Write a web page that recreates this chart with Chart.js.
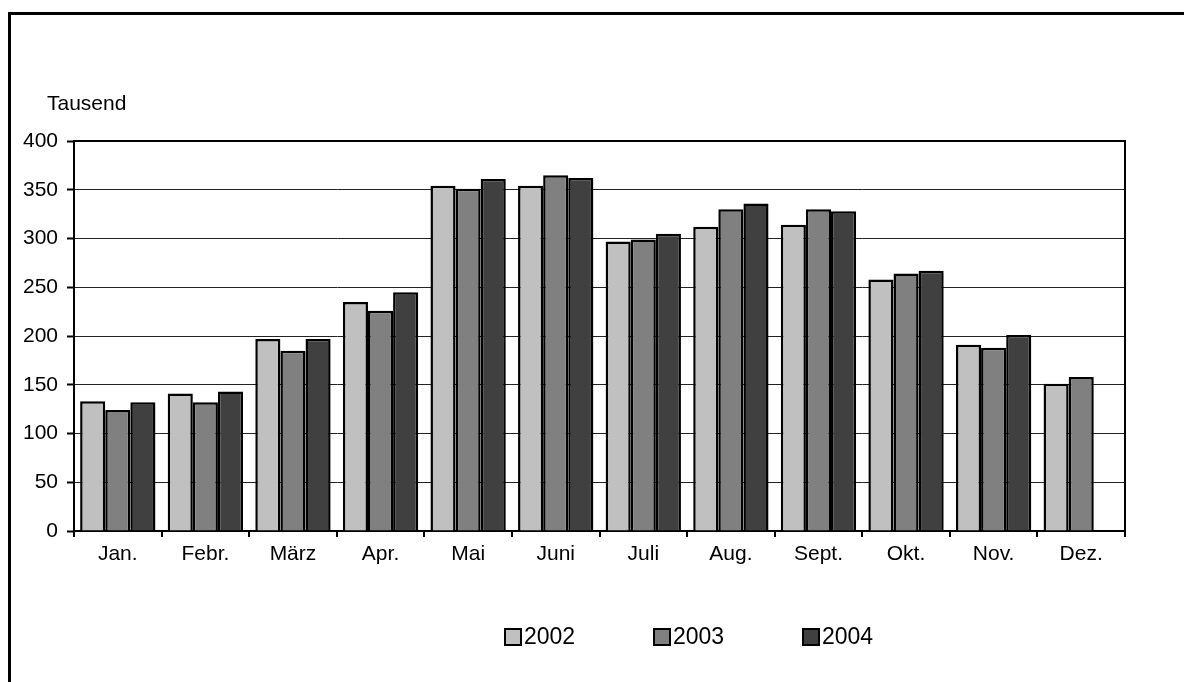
<!DOCTYPE html>
<html>
<head>
<meta charset="utf-8">
<script src="https://cdn.jsdelivr.net/npm/chart.js@4.4.1/dist/chart.umd.min.js"></script>
<style>
  html, body { margin: 0; padding: 0; width: 1184px; height: 682px; overflow: hidden; background: #fff; }
  #frame { position: absolute; left: 8px; top: 12px; width: 1400px; height: 900px; border-left: 3px solid #000; border-top: 3px solid #000; }
  #wrap { position: absolute; left: 0; top: 0; width: 1184px; height: 682px; }
</style>
</head>
<body>
<div id="frame"></div>
<div id="wrap"><canvas id="c" width="1184" height="682"></canvas></div>
<script>
const categories = ["Jan.", "Febr.", "März", "Apr.", "Mai", "Juni", "Juli", "Aug.", "Sept.", "Okt.", "Nov.", "Dez."];
const seriesLabels = ["2002", "2003", "2004"];
const values2002 = [133, 141, 197, 235, 354, 354, 297, 312, 314, 258, 191, 151];
const values2003 = [124, 132, 185, 226, 351, 365, 299, 330, 330, 264, 188, 158];
const values2004 = [132, 143, 197, 245, 361, 362, 305, 336, 328, 267, 201, null];
const yTicks = [0, 50, 100, 150, 200, 250, 300, 350, 400];
const unitLabel = "Tausend";
const colors = ["#C0C0C0", "#808080", "#404040"];

const FONT = "'Liberation Sans', Arial, sans-serif";

const framePlugin = {
  id: 'framePlugin',
  afterDraw(chart) {
    const ctx = chart.ctx, a = chart.chartArea;
    ctx.save();
    ctx.strokeStyle = '#000';
    ctx.lineWidth = 2;
    ctx.beginPath();
    ctx.moveTo(a.left, a.top);
    ctx.lineTo(a.right, a.top);
    ctx.lineTo(a.right, a.bottom);
    ctx.stroke();
    // unit label
    ctx.fillStyle = '#000';
    ctx.font = "21px " + FONT;
    ctx.textAlign = 'left';
    ctx.textBaseline = 'middle';
    ctx.fillText(unitLabel, 47, 104);
    // legend
    ctx.font = "23px " + FONT;
    chart.data.datasets.forEach((ds, i) => {
      const x = 505 + i * 149, y = 637;
      ctx.fillStyle = ds.backgroundColor;
      ctx.fillRect(x, y - 8, 16, 16);
      ctx.lineWidth = 2;
      ctx.strokeStyle = '#000';
      ctx.strokeRect(x, y - 8, 16, 16);
      ctx.fillStyle = '#000';
      ctx.fillText(ds.label, x + 19, y + 1);
    });
    ctx.restore();
  }
};

new Chart(document.getElementById('c'), {
  type: 'bar',
  data: {
    labels: categories,
    datasets: [
      { label: seriesLabels[0], data: values2002, backgroundColor: colors[0] },
      { label: seriesLabels[1], data: values2003, backgroundColor: colors[1] },
      { label: seriesLabels[2], data: values2004, backgroundColor: colors[2] }
    ].map(d => Object.assign(d, { borderColor: '#000', borderWidth: 2.5, borderSkipped: 'bottom', categoryPercentage: 0.86, barPercentage: 1.0 }))
  },
  options: {
    responsive: false,
    animation: false,
    devicePixelRatio: 1,
    layout: { padding: { top: 141, right: 59, bottom: 0, left: 0 } },
    plugins: { legend: { display: false }, tooltip: { enabled: false } },
    scales: {
      x: {
        grid: { display: true, offset: true, drawOnChartArea: false, drawTicks: true, tickLength: 6, color: '#000', lineWidth: 2 },
        border: { display: true, color: '#000', width: 2 },
        ticks: { color: '#000', font: { family: FONT, size: 21 }, padding: 5, maxRotation: 0, autoSkip: false },
        afterFit(scale) { scale.height = 151; }
      },
      y: {
        min: 0, max: 400,
        afterBuildTicks(scale) { scale.ticks = yTicks.map(v => ({ value: v })); },
        grid: {
          color: '#222',
          lineWidth: 1,
          drawTicks: true,
          tickLength: 7,
          tickColor: '#000',
          tickWidth: 2
        },
        border: { display: true, color: '#000', width: 2 },
        ticks: { color: '#000', font: { family: FONT, size: 21 }, padding: 9 },
        afterFit(scale) { scale.width = 74; }
      }
    }
  },
  plugins: [framePlugin]
});
</script>
</body>
</html>
